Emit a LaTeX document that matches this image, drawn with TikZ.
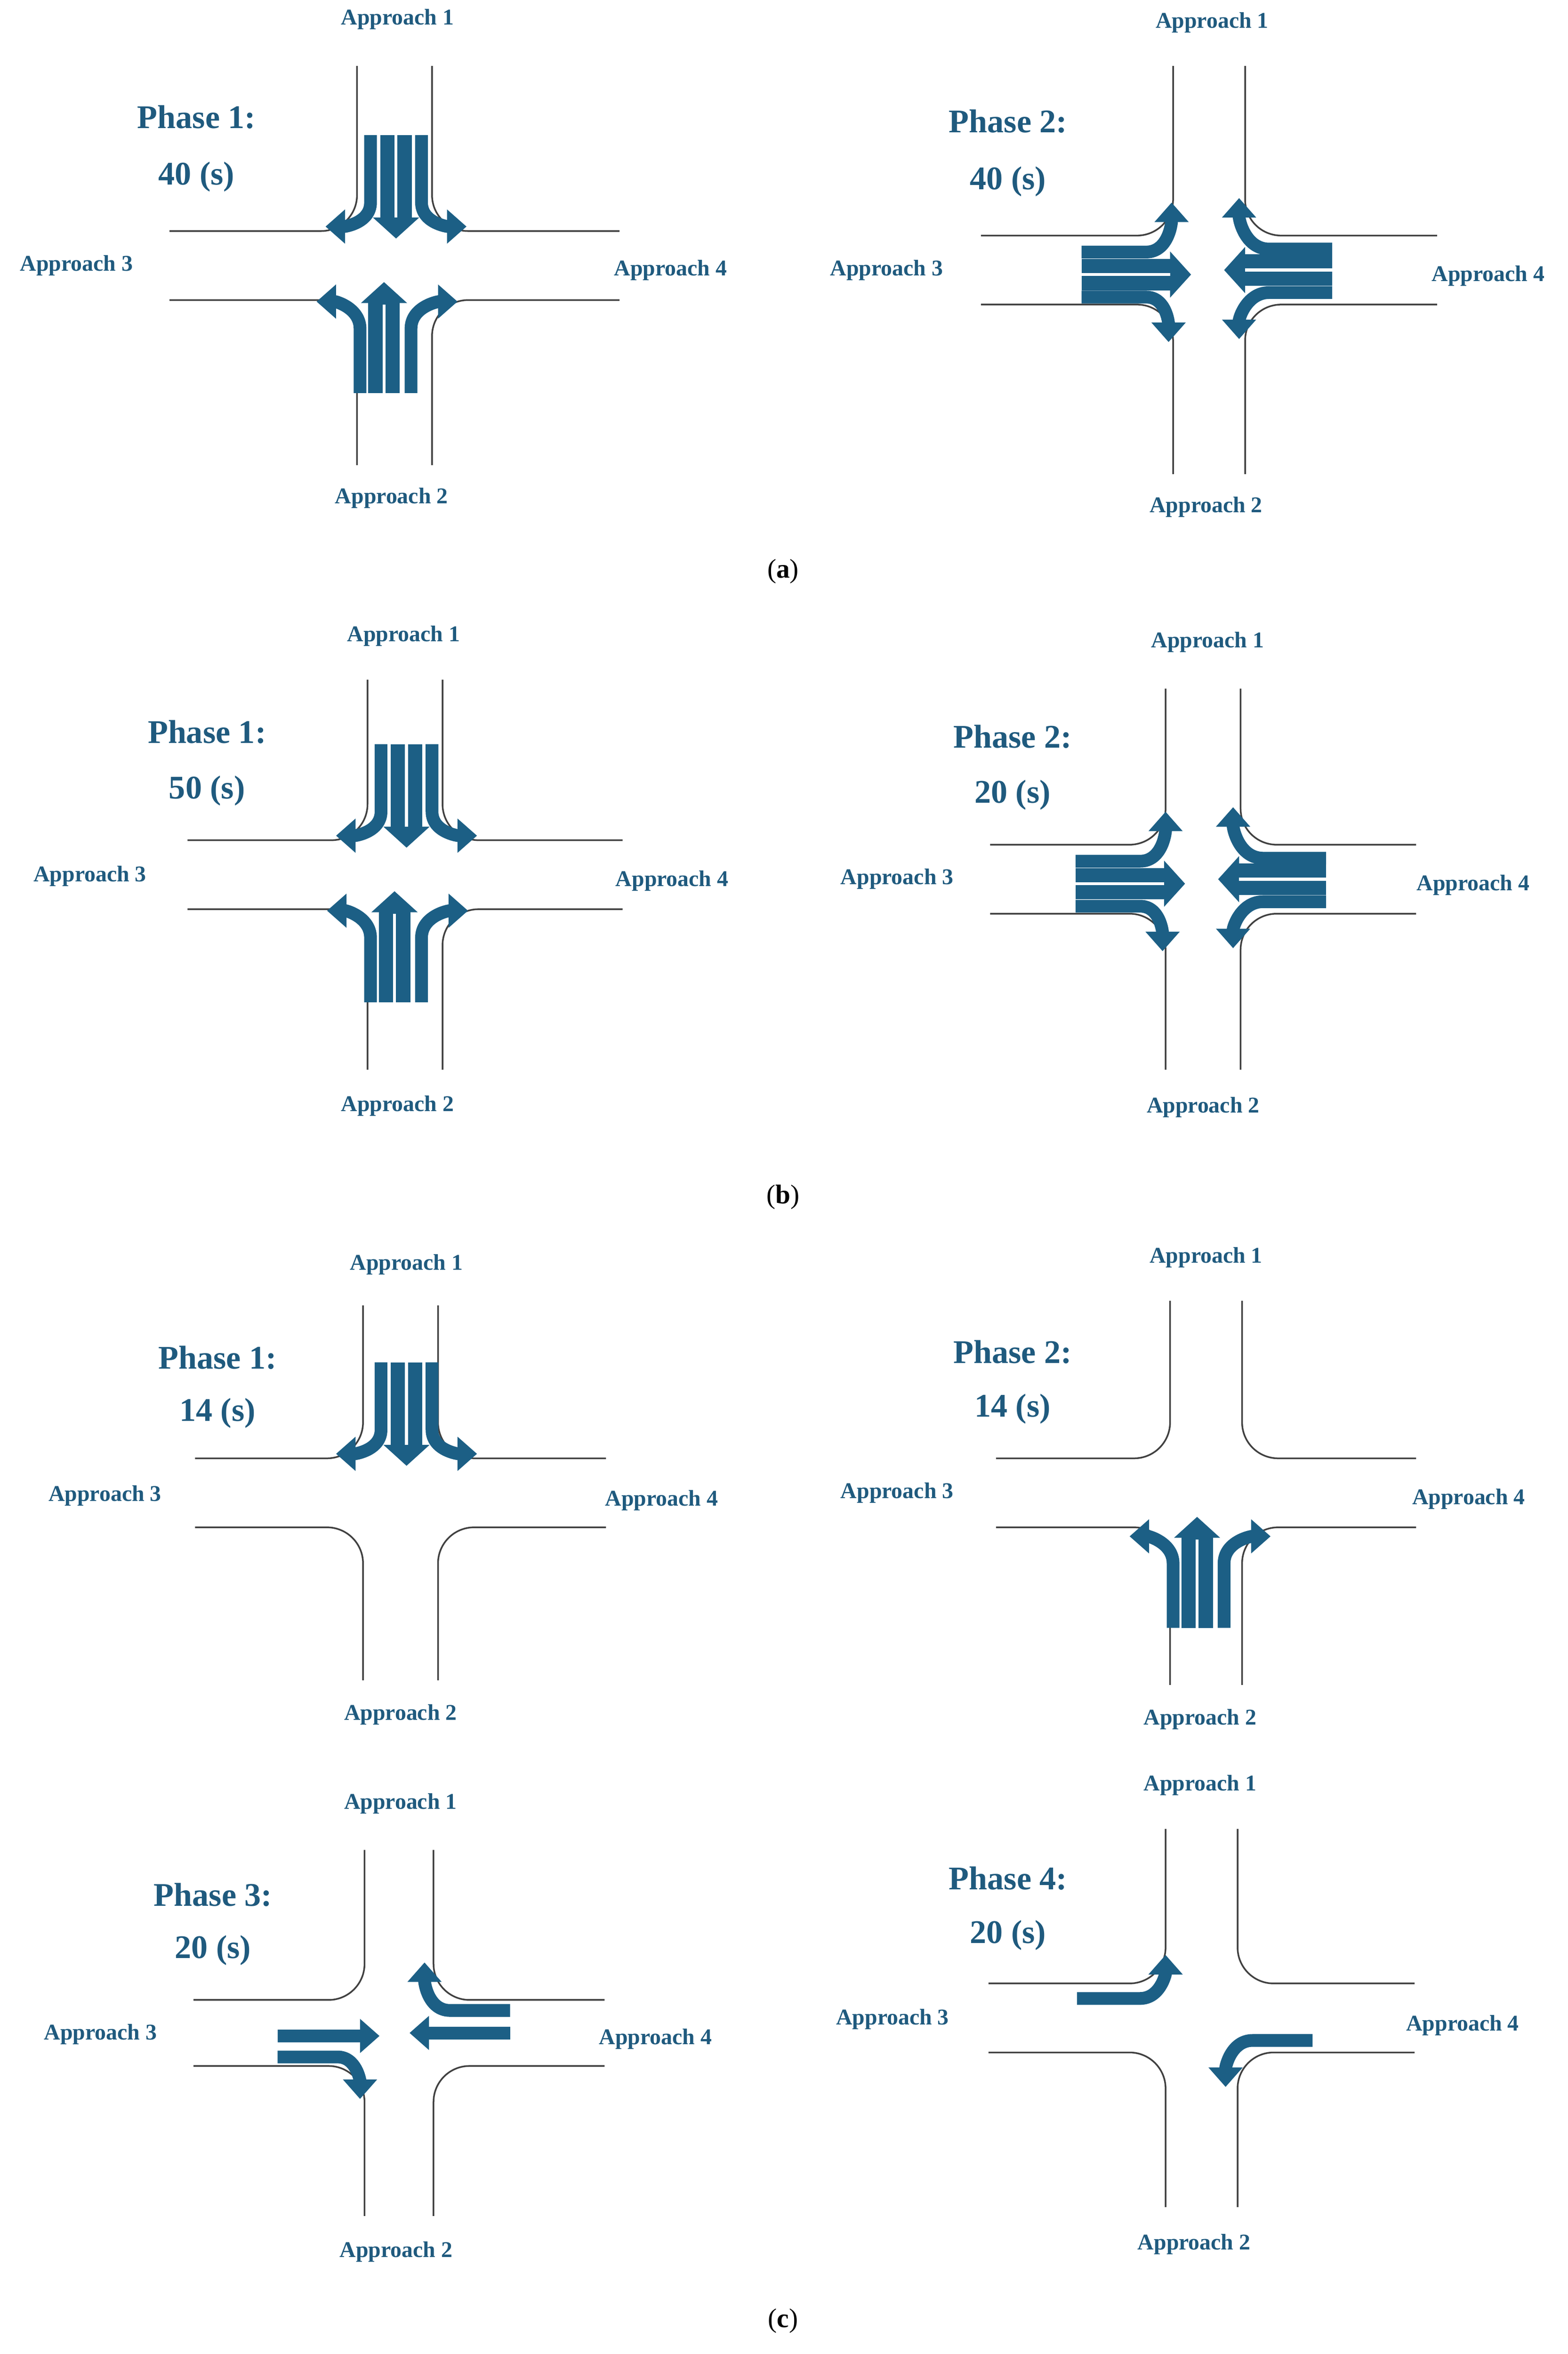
\documentclass[tikz,border=0pt]{standalone}
\usepackage{fontspec}
\setmainfont{Liberation Serif}
\usetikzlibrary{arrows.meta}
\definecolor{arrc}{HTML}{1C5F85}
\definecolor{txtc}{HTML}{1F5A7E}
\tikzset{
 road/.style={draw=black!75, line width=1.1pt, rounded corners=24pt},
 arr/.style={arrc, line width=8.5pt, -{Triangle[width=22pt,length=13pt]}},
 wide/.style={arrc, line width=21pt, -{Triangle[width=30pt,length=14pt]}},
 split/.style={white, line width=2pt},
 appr/.style={text=txtc, font=\fontsize{15}{17}\selectfont\bfseries},
 phase/.style={text=txtc, font=\fontsize{22}{24}\selectfont\bfseries},
 capt/.style={font=\fontsize{18}{20}\selectfont}
}
% \inter{cx}{cy}{halfw}{halfh}{X}{Y}
\newcommand{\inter}[6]{
 \draw[road] (#1-#3,#2-#6) -- (#1-#3,#2-#4) -- (#1-#5,#2-#4);
 \draw[road] (#1+#3,#2-#6) -- (#1+#3,#2-#4) -- (#1+#5,#2-#4);
 \draw[road] (#1-#3,#2+#6) -- (#1-#3,#2+#4) -- (#1-#5,#2+#4);
 \draw[road] (#1+#3,#2+#6) -- (#1+#3,#2+#4) -- (#1+#5,#2+#4);
}
\newcommand{\southgrp}{
 \draw[arr] (-16,-87) -- (-16,-42) to[out=-90,in=0] (-46,-26);
 \draw[wide] (1,-87) -- (1,-18); \draw[split] (1,-88) -- (1,-32);
 \draw[arr] (18,-87) -- (18,-42) to[out=-90,in=180] (48,-26);
}
\newcommand{\northgrp}{
 \draw[arr] (-23,85) -- (-23,42) to[out=90,in=0] (-52,24);
 \draw[wide] (-7,85) -- (-7,11); \draw[split] (-7,86) -- (-7,26);
 \draw[arr] (11,85) -- (11,42) to[out=90,in=180] (42,24);
}
\newcommand{\eastgrp}{
 \draw[arr] (-85,-12) -- (-42,-12) to[out=0,in=-90] (-25,-45);
 \draw[wide] (-85,3) -- (-12,3); \draw[split] (-86,3) -- (-26,3);
 \draw[arr] (-85,18) -- (-42,18) to[out=0,in=90] (-27,48);
}
\newcommand{\westgrp}{
 \draw[arr] (82,-14) -- (40,-14) to[out=180,in=-90] (20,-48);
 \draw[wide] (82,0) -- (10,0); \draw[split] (83,0) -- (24,0);
 \draw[arr] (82,15) -- (40,15) to[out=180,in=90] (20,46);
}
\begin{document}
\begin{tikzpicture}[x=1pt,y=-1pt]
\useasboundingbox (0,0) rectangle (1045,1569);
% (a) left
\inter{263}{177}{25}{23}{150}{133}
\node[appr] at (265,13) {Approach 1}; \node[appr] at (261,332) {Approach 2};
\node[appr] at (51,177) {Approach 3}; \node[appr] at (447,180) {Approach 4};
\node[phase] at (131,78) {Phase 1:}; \node[phase] at (131,118) {40 (s)};
\begin{scope}[shift={(263,177)}]\southgrp\northgrp\end{scope}
% (a) right
\inter{806}{180}{24}{23}{152}{136}
\node[appr] at (808,15) {Approach 1}; \node[appr] at (804,338) {Approach 2};
\node[appr] at (591,180) {Approach 3}; \node[appr] at (992,184) {Approach 4};
\node[phase] at (672,81) {Phase 2:}; \node[phase] at (672,121) {40 (s)};
\begin{scope}[shift={(806,180)}]\eastgrp\westgrp\end{scope}
\node[capt] at (522,381) {(\textbf{a})};
% (b) left
\inter{270}{583}{25}{23}{145}{130}
\node[appr] at (269,424) {Approach 1}; \node[appr] at (265,737) {Approach 2};
\node[appr] at (60,584) {Approach 3}; \node[appr] at (448,587) {Approach 4};
\node[phase] at (138,488) {Phase 1:}; \node[phase] at (138,527) {50 (s)};
\begin{scope}[shift={(270,583)}]\southgrp\northgrp\end{scope}
% (b) right
\inter{802}{586}{25}{23}{142}{127}
\node[appr] at (805,428) {Approach 1}; \node[appr] at (802,738) {Approach 2};
\node[appr] at (598,586) {Approach 3}; \node[appr] at (982,590) {Approach 4};
\node[phase] at (675,491) {Phase 2:}; \node[phase] at (675,530) {20 (s)};
\begin{scope}[shift={(802,586)}]\eastgrp\westgrp\end{scope}
\node[capt] at (522,798) {(\textbf{b})};
% (c) top left
\inter{267}{995}{25}{23}{137}{125}
\node[appr] at (271,843) {Approach 1}; \node[appr] at (267,1143) {Approach 2};
\node[appr] at (70,997) {Approach 3}; \node[appr] at (441,1000) {Approach 4};
\node[phase] at (145,905) {Phase 1:}; \node[phase] at (145,942) {14 (s)};
\begin{scope}[shift={(270,995)}]\southgrp\end{scope}
% (c) top right
\inter{804}{995}{24}{23}{140}{128}
\node[appr] at (804,838) {Approach 1}; \node[appr] at (800,1146) {Approach 2};
\node[appr] at (598,995) {Approach 3}; \node[appr] at (979,999) {Approach 4};
\node[phase] at (675,901) {Phase 2:}; \node[phase] at (675,939) {14 (s)};
\begin{scope}[shift={(805,1000)}]\northgrp\end{scope}
% (c) bottom left
\inter{266}{1355}{23}{22}{137}{122}
\node[appr] at (267,1202) {Approach 1}; \node[appr] at (264,1501) {Approach 2};
\node[appr] at (67,1356) {Approach 3}; \node[appr] at (437,1359) {Approach 4};
\node[phase] at (142,1263) {Phase 3:}; \node[phase] at (142,1300) {20 (s)};
\begin{scope}[shift={(265,1355)}]
 \draw[arr] (-80,2) -- (-12,2);
 \draw[arr] (-80,16) -- (-40,16) to[out=0,in=90] (-25,44);
 \draw[arr] (75,0) -- (8,0);
 \draw[arr] (75,-15) -- (35,-15) to[out=180,in=-90] (18,-47);
\end{scope}
% (c) bottom right
\inter{801}{1345}{24}{23}{142}{126}
\node[appr] at (800,1190) {Approach 1}; \node[appr] at (796,1496) {Approach 2};
\node[appr] at (595,1346) {Approach 3}; \node[appr] at (975,1350) {Approach 4};
\node[phase] at (672,1252) {Phase 4:}; \node[phase] at (672,1290) {20 (s)};
\begin{scope}[shift={(795,1345)}]
 \draw[arr] (-77,-13) -- (-35,-13) to[out=0,in=-90] (-18,-42);
 \draw[arr] (80,15) -- (40,15) to[out=180,in=90] (22,46);
\end{scope}
\node[capt] at (522,1547) {(\textbf{c})};
\end{tikzpicture}
\end{document}
